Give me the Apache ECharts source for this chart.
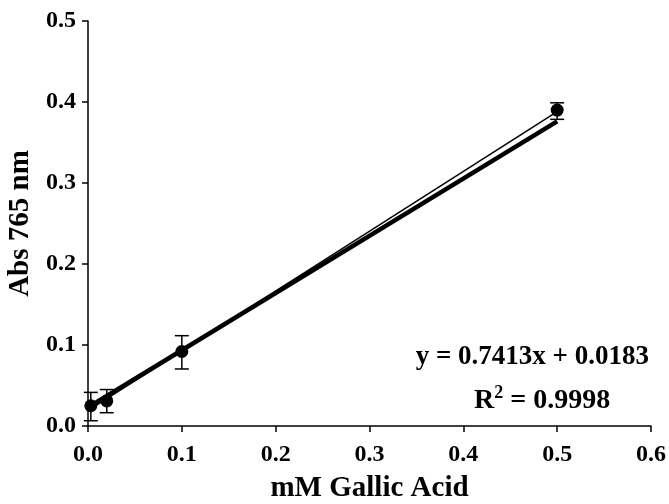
<!DOCTYPE html>
<html lang="en">
<head>
  <meta charset="UTF-8">
  <title>Gallic Acid standard curve</title>
  <style>
    html, body { margin: 0; padding: 0; background: #fff; }
  </style>
</head>
<body>
  <div id="main" style="width: 669px;height:504px;"></div>
  <script src="https://cdn.jsdelivr.net/npm/echarts@6/dist/echarts.min.js"></script>
  <script type="text/javascript">
    // measured points (mM, absorbance) and their error bar limits
    var conc = [0.003, 0.02, 0.1, 0.5];
    var absVal = [0.025, 0.031, 0.092, 0.390];
    var errLow = [0.0065, 0.0164, 0.0704, 0.3786];
    var errHigh = [0.0415, 0.045, 0.1115, 0.399];

    // the two straight lines (endpoints)
    var thinLine = [[0.003, 0.021], [0.5, 0.388]];
    var thickLine = [[0.003, 0.025], [0.5, 0.376]];

    var xTicks = [0, 0.1, 0.2, 0.3, 0.4, 0.5, 0.6];
    var yTicks = [0, 0.1, 0.2, 0.3, 0.4, 0.5];

    var eqText = 'y = 0.7413x + 0.0183';
    var r2Value = '0.9998';

    var font = "'Liberation Serif', 'Times New Roman', serif";

    var myChart = echarts.init(document.getElementById('main'));

    var points = conc.map(function (x, i) { return [x, absVal[i]]; });
    var bars = conc.map(function (x, i) { return [x, errLow[i], errHigh[i]]; });

    var axisCommon = {
      type: 'value',
      splitLine: { show: false },
      axisLine: { show: true, onZero: false, lineStyle: { color: '#000', width: 1.5 } },
      axisTick: { show: true, inside: false, length: 6, lineStyle: { color: '#000', width: 1.5 } },
      axisLabel: {
        color: '#000', fontFamily: font, fontWeight: 'bold', fontSize: 24,
        formatter: function (v) { return v.toFixed(1); }
      },
      nameLocation: 'middle',
      nameTextStyle: { color: '#000', fontFamily: font, fontWeight: 'bold', fontSize: 29 }
    };

    var option = {
      animation: false,
      grid: { left: 88, right: 18, top: 21, bottom: 78, containLabel: false, outerBoundsMode: 'none' },
      xAxis: echarts.util.merge({
        min: xTicks[0], max: xTicks[xTicks.length - 1], interval: 0.1,
        name: 'mM Gallic Acid', nameGap: 48,
        axisLabel: { margin: 17 }
      }, axisCommon),
      yAxis: echarts.util.merge({
        min: yTicks[0], max: yTicks[yTicks.length - 1], interval: 0.1,
        name: 'Abs 765 nm', nameGap: 50,
        axisLabel: { margin: 12 }
      }, axisCommon),
      series: [
        {
          type: 'line',
          data: thinLine,
          symbol: 'none',
          lineStyle: { color: '#000', width: 1.5 },
          z: 2
        },
        {
          type: 'line',
          data: thickLine,
          symbol: 'none',
          lineStyle: { color: '#000', width: 4.5 },
          z: 3
        },
        {
          type: 'custom',
          data: bars,
          z: 4,
          renderItem: function (params, api) {
            var x = api.value(0);
            var lo = api.coord([x, api.value(1)]);
            var hi = api.coord([x, api.value(2)]);
            var w = 7;
            var st = { stroke: '#000', lineWidth: 1.5 };
            return {
              type: 'group',
              children: [
                { type: 'line', shape: { x1: lo[0], y1: lo[1], x2: hi[0], y2: hi[1] }, style: st },
                { type: 'line', shape: { x1: lo[0] - w, y1: lo[1], x2: lo[0] + w, y2: lo[1] }, style: st },
                { type: 'line', shape: { x1: hi[0] - w, y1: hi[1], x2: hi[0] + w, y2: hi[1] }, style: st }
              ]
            };
          }
        },
        {
          type: 'scatter',
          data: points,
          symbol: 'circle',
          symbolSize: 13,
          itemStyle: { color: '#000', opacity: 1 },
          z: 5
        }
      ],
      graphic: [
        {
          type: 'text',
          right: 20,
          top: 344,
          style: {
            text: eqText,
            fill: '#000',
            font: 'bold 27px ' + font
          }
        },
        {
          type: 'text',
          left: 474,
          top: 384,
          style: {
            text: '{r|R}{s|2}{r| = ' + r2Value + '}',
            fill: '#000',
            rich: {
              r: { fontFamily: font, fontWeight: 'bold', fontSize: 28, fill: '#000' },
              s: { fontFamily: font, fontWeight: 'bold', fontSize: 18, fill: '#000', padding: [0, 0, 15, 0] }
            }
          }
        }
      ]
    };

    myChart.setOption(option);
  </script>
</body>
</html>
